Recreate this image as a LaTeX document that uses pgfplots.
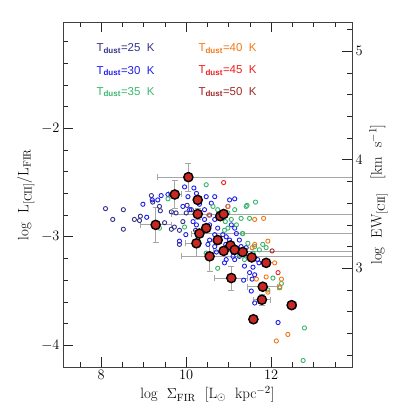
\documentclass[border=0pt]{standalone}
\usepackage{fontspec}
\usepackage{pgfplots}
\pgfplotsset{compat=1.18}
\usepackage{pgfplotstable}
\newfontfamily\helv{Liberation Sans}

\definecolor{navy25}{RGB}{50,50,140}
\definecolor{blue30}{RGB}{30,30,235}
\definecolor{green35}{RGB}{60,180,110}
\definecolor{orange40}{RGB}{240,120,20}
\definecolor{red45}{RGB}{240,30,30}
\definecolor{brown50}{RGB}{160,40,40}
\definecolor{redfill}{RGB}{200,40,35}

% stacked points: x y and errors (minus / plus)
\pgfplotstableread{
x     y      exm   exp   eym   eyp
10.05 -2.45  0.72  5.0    0.13  0.13
9.73  -2.61  0.15  0.15  0.13  0.13
10.27 -2.79  0.62  5.0   0.05  0.05
9.28  -2.89  0.37  0.37  0.16  0.16
10.31 -2.97  0.20  5.0   0.0   0.0
10.24 -3.06  0.25  0.0   0.12  0.12
10.88 -3.13  0.25  5.0   0.0   0.0
10.55 -3.18  0.67  5.0   0.14  0.14
11.06 -3.38  0.39  0.39  0.11  0.11
11.80 -3.46  0.35  0.35  0.0   0.0
11.78 -3.58  0.20  0.20  0.05  0.05
12.48 -3.63  0.10  0.10  0.0   0.0
}\errtab

\begin{document}
\begin{tikzpicture}
\pgfplotsset{
  base/.style={
    width=289bp, height=345bp, scale only axis,
    at={(0,0)}, anchor=south west,
    xmin=7.1, xmax=13.9,
    font=\fontsize{15}{17}\selectfont,
    axis line style={black!75, line width=0.8bp},
    tick style={black!85, line width=0.7bp},
    major tick length=10bp, minor tick length=5bp,
    tick align=inside,
  }
}
\begin{axis}[
    base,
    ymin=-4.2, ymax=-1.02,
    xtick={8,10,12},
    minor xtick={7.5,8.5,9,9.5,10.5,11,11.5,12.5,13,13.5},
    ytick={-4,-3,-2},
    minor ytick={-4.2,-3.8,-3.6,-3.4,-3.2,-2.8,-2.6,-2.4,-2.2,-1.8,-1.6,-1.4,-1.2},
    xtick pos=both, ytick pos=left,
    xlabel={log\ \ $\Sigma_{\rm FIR}$\ \ [L$_\odot$\ \ kpc$^{-2}$]},
    ylabel={log\ \ L$_{\rm [CII]}$/L$_{\rm FIR}$},
    clip=true,
]

% error bars of the stacked points
\addplot[only marks, mark=none, forget plot,
    error bars/.cd, x dir=both, x explicit, y dir=both, y explicit,
    error bar style={color=black!35, line width=0.8bp},
    error mark options={rotate=90, color=black!35, mark size=3bp, line width=0.8bp}]
    table[x=x, y=y, x error minus=exm, x error plus=exp, y error minus=eym, y error plus=eyp] {\errtab};

% T_dust = 25 K
\addplot[only marks, mark=o, mark size=2.1bp, navy25, mark options={line width=0.9bp}] coordinates {
(8.10,-2.74) (8.52,-2.75) (8.27,-2.84) (8.52,-2.93) (8.78,-2.84) (8.90,-2.85)
(8.92,-2.81) (9.18,-2.62) (9.21,-2.68) (9.37,-2.72) (9.39,-2.76) (9.65,-2.77)
(9.76,-2.78) (9.65,-2.93) (9.72,-2.91) (9.84,-2.94) (9.84,-3.07) (10.02,-2.71)
(10.00,-2.78) (10.12,-2.75) (9.92,-2.86) (10.22,-2.94) (9.49,-2.87)
};

% T_dust = 30 K
\addplot[only marks, mark=o, mark size=2.1bp, blue30, mark options={line width=0.9bp}] coordinates {
(8.98,-2.70) (9.20,-2.66) (9.33,-2.66) (9.41,-2.62) (9.57,-2.61) (9.96,-2.54)
(10.18,-2.55) (10.24,-2.60) (10.04,-2.63) (10.47,-2.63) (10.67,-2.63) (11.02,-2.66)
(11.14,-2.65) (10.98,-2.72) (10.59,-2.69) (9.92,-2.72) (10.08,-2.75) (10.43,-2.75)
(10.55,-2.80) (10.43,-2.84) (10.16,-2.86) (10.24,-2.89) (10.55,-2.89) (10.67,-2.84)
(11.06,-2.89) (11.14,-2.92) (11.18,-2.97) (10.94,-3.00) (10.67,-2.98) (10.55,-3.03)
(10.51,-3.07) (10.67,-3.09) (10.71,-3.14) (10.86,-2.98) (11.02,-3.03) (11.25,-3.03)
(11.29,-3.09) (11.41,-3.10) (11.25,-3.18) (11.10,-3.18) (10.94,-3.21) (10.90,-3.24)
(11.14,-3.21) (11.37,-3.27) (11.57,-3.28) (11.49,-3.33) (11.61,-3.35) (11.68,-3.21)
(11.53,-3.50) (11.61,-3.61) (12.16,-3.79) (10.31,-2.95) (9.99,-2.98) (9.84,-3.04)
(9.07,-2.82) (11.35,-3.40) (11.55,-3.39) (11.71,-3.24) (10.78,-2.83) (10.31,-2.70)
(10.74,-2.92) (10.93,-3.07)
};

% T_dust = 35 K
\addplot[only marks, mark=o, mark size=2.1bp, green35, mark options={line width=0.9bp}] coordinates {
(10.47,-2.52) (9.57,-2.65) (10.63,-2.72) (10.74,-2.75) (11.41,-2.72) (11.63,-2.68)
(11.14,-2.75) (10.98,-2.78) (11.29,-2.83) (11.49,-2.83) (11.06,-2.84) (10.92,-2.86)
(11.18,-2.89) (10.98,-2.92) (11.33,-2.97) (10.90,-2.94) (9.37,-2.92) (9.96,-2.91)
(11.45,-3.06) (11.61,-3.09) (11.80,-3.07) (11.72,-3.12) (11.88,-3.10) (11.37,-3.21)
(11.57,-3.15) (10.47,-3.15) (10.74,-3.29) (12.04,-3.38) (12.24,-3.43) (12.20,-3.47)
(11.92,-3.49) (11.25,-3.17) (12.78,-3.84) (12.75,-4.14) (11.32,-2.97) (11.43,-2.71)
};

% T_dust = 40 K
\addplot[only marks, mark=o, mark size=2.1bp, orange40, mark options={line width=0.9bp}] coordinates {
(10.98,-2.72) (10.53,-2.80) (11.61,-2.84) (11.82,-2.83) (11.92,-3.04) (11.55,-3.10)
(12.08,-3.24) (11.88,-3.37) (12.24,-3.39) (11.65,-3.39) (11.92,-3.51) (12.20,-3.46)
(12.39,-3.90) (12.12,-3.96) (11.61,-3.07)
};

% T_dust = 45 K
\addplot[only marks, mark=o, mark size=2.1bp, red45, mark options={line width=0.9bp}] coordinates {
(10.88,-2.50) (12.16,-3.33)
};

% T_dust = 50 K
\addplot[only marks, mark=o, mark size=2.1bp, brown50, mark options={line width=0.9bp}] coordinates {
(12.02,-3.13)
};

% stacked points
\addplot[only marks, mark=*, mark size=4.6bp, mark options={fill=redfill, draw=black, line width=1.4bp}] coordinates {
(10.05,-2.45) (9.73,-2.61) (10.27,-2.66) (10.27,-2.79) (9.28,-2.89) (10.80,-2.81)
(10.88,-2.79) (10.47,-2.92) (10.31,-2.97) (10.74,-3.03) (10.24,-3.06) (11.04,-3.08)
(11.14,-3.12) (10.88,-3.13) (11.33,-3.14) (10.55,-3.18) (11.54,-3.19) (11.88,-3.24)
(11.06,-3.38) (11.80,-3.46) (11.78,-3.58) (12.48,-3.63) (11.58,-3.76)
};

% legend as coloured text
\begin{scope}[font=\helv\fontsize{11.5}{13}\selectfont]
\node[anchor=west, navy25] at (rel axis cs:0.104,0.922) {T\textsubscript{\bfseries dust}=25~~K};
\node[anchor=west, blue30] at (rel axis cs:0.104,0.858) {T\textsubscript{\bfseries dust}=30~~K};
\node[anchor=west, green35] at (rel axis cs:0.104,0.797) {T\textsubscript{\bfseries dust}=35~~K};
\node[anchor=west, orange40] at (rel axis cs:0.457,0.922) {T\textsubscript{\bfseries dust}=40~~K};
\node[anchor=west, red45] at (rel axis cs:0.457,0.858) {T\textsubscript{\bfseries dust}=45~~K};
\node[anchor=west, brown50] at (rel axis cs:0.457,0.797) {T\textsubscript{\bfseries dust}=50~~K};
\end{scope}
\end{axis}

% right-hand axis: equivalent width
\begin{axis}[
    base,
    ymin=2.09, ymax=5.27,
    axis x line=none, axis y line*=right,
    ytick={3,4,5},
    minor ytick={2.2,2.4,2.6,2.8,3.2,3.4,3.6,3.8,4.2,4.4,4.6,4.8,5.2},
    ylabel={log\ \ EW$_{\rm [CII]}$\ \ \ [km\ \ s$^{-1}$]},
]
\addplot[draw=none] coordinates {(8,3)};
\end{axis}

\pgfresetboundingbox
\path (-63bp,-44bp) rectangle (348bp,367bp);
\end{tikzpicture}
\end{document}
